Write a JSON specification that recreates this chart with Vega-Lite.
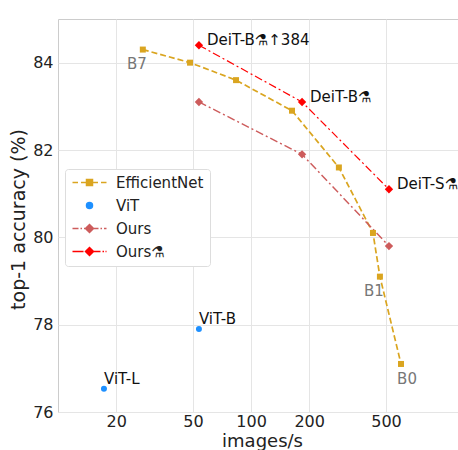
{
  "$schema": "https://vega.github.io/schema/vega-lite/v6.json",
  "autosize": "none",
  "padding": {"left": 58, "top": 19, "right": 0, "bottom": 38},
  "width": 400,
  "height": 393,
  "background": "white",
  "config": {
    "font": "DejaVu Sans",
    "view": {"stroke": "#cccccc", "strokeWidth": 1},
    "axis": {
      "domain": false,
      "ticks": false,
      "gridColor": "#e5e5e5",
      "gridWidth": 1,
      "labelFont": "DejaVu Sans",
      "labelFontSize": 16,
      "labelColor": "#222222",
      "titleFont": "DejaVu Sans",
      "titleFontSize": 19,
      "titleFontWeight": "normal",
      "titleColor": "#222222"
    },
    "legend": {
      "title": null, "orient": "none", "legendX": 7, "legendY": 150, "padding": 6,
      "fillColor": "white", "strokeColor": "#dddddd", "cornerRadius": 3,
      "symbolSize": 100, "symbolOffset": 11, "labelOffset": 19, "rowPadding": 7,
      "symbolOpacity": 1,
      "labelFontSize": 15, "labelFont": "DejaVu Sans", "labelColor": "#222222"
    }
  },
  "data": {
    "values": [
      {"x": 27.5, "y": 84.3, "series": "EfficientNet", "label": "B7"},
      {"x": 48.3, "y": 84.0, "series": "EfficientNet", "label": ""},
      {"x": 83.6, "y": 83.6, "series": "EfficientNet", "label": ""},
      {"x": 163, "y": 82.9, "series": "EfficientNet", "label": ""},
      {"x": 285, "y": 81.6, "series": "EfficientNet", "label": ""},
      {"x": 428, "y": 80.1, "series": "EfficientNet", "label": ""},
      {"x": 465, "y": 79.1, "series": "EfficientNet", "label": "B1"},
      {"x": 598, "y": 77.1, "series": "EfficientNet", "label": "B0"},
      {"x": 53.7, "y": 77.9, "series": "ViT", "label": "ViT-B"},
      {"x": 17.3, "y": 76.53, "series": "ViT", "label": "ViT-L"},
      {"x": 53.7, "y": 83.1, "series": "Ours", "label": ""},
      {"x": 183.7, "y": 81.9, "series": "Ours", "label": ""},
      {"x": 518, "y": 79.8, "series": "Ours", "label": ""},
      {"x": 53.7, "y": 84.4, "series": "Ours⚗", "label": "DeiT-B⚗↑384"},
      {"x": 183.7, "y": 83.1, "series": "Ours⚗", "label": "DeiT-B⚗"},
      {"x": 518, "y": 81.1, "series": "Ours⚗", "label": "DeiT-S⚗"}
    ]
  },
  "encoding": {
    "x": {
      "field": "x", "type": "quantitative",
      "scale": {"type": "log", "domain": [10, 1180], "nice": false},
      "axis": {"values": [20, 50, 100, 200, 500], "format": "d", "title": "images/s", "labelPadding": 1, "titleFontSize": 18, "titleBaseline": "alphabetic", "titleY": 34, "titleX": 204}
    },
    "y": {
      "field": "y", "type": "quantitative",
      "scale": {"domain": [76, 85], "nice": false, "zero": false},
      "axis": {"values": [76, 78, 80, 82, 84], "title": "top-1 accuracy (%)", "labelPadding": 5, "titlePadding": 4, "titleY": 200}
    }
  },
  "layer": [
    {
      "mark": {"type": "point", "filled": true, "opacity": 0.001, "size": 100},
      "encoding": {
        "color": {"field": "series", "type": "nominal",
          "scale": {"domain": ["EfficientNet", "ViT", "Ours", "Ours⚗"], "range": ["#DAA520", "#1E90FF", "#CD5C5C", "#FF0000"]},
          "legend": {"symbolOpacity": 1,
            "encode": {"symbols": {"update": {"stroke": {"scale": "color", "field": "value"}, "fill": {"scale": "color", "field": "value"}, "opacity": {"value": 1}, "fillOpacity": {"value": 1}, "strokeOpacity": {"value": 1}, "strokeWidth": {"value": 1.5}}}}}},
        "shape": {"field": "series", "type": "nominal",
          "scale": {"domain": ["EfficientNet", "ViT", "Ours", "Ours⚗"],
            "range": [
              "M-3.4,0H-2.3M-1.7,0H-0.6M0.6,0H1.7M2.3,0H3.4M-0.6,-0.6H0.6V0.6H-0.6Z",
              "M0.6,0A0.6,0.6 0 1,1 -0.6,0A0.6,0.6 0 1,1 0.6,0Z",
              "M-3.4,0H-2.2M-1.8,0H-1.5M-1.1,0H-0.8M0.8,0H1.8M2.2,0H2.5M2.9,0H3.4M0,-0.8L0.8,0L0,0.8L-0.8,0Z",
              "M-3.4,0H-1.2M-0.9,0H-0.8M0.8,0H2.2M2.6,0H2.9M3.2,0H3.4M0,-0.8L0.8,0L0,0.8L-0.8,0Z"
            ]},
          "legend": {"symbolOpacity": 1,
            "encode": {"symbols": {"update": {"stroke": {"scale": "color", "field": "value"}, "fill": {"scale": "color", "field": "value"}, "opacity": {"value": 1}, "fillOpacity": {"value": 1}, "strokeOpacity": {"value": 1}, "strokeWidth": {"value": 1.5}}}}}}
      }
    },
    {
      "transform": [{"filter": "datum.series !== 'ViT'"}],
      "mark": {"type": "line"},
      "encoding": {
        "color": {"field": "series", "type": "nominal", "legend": null},
        "strokeDash": {"field": "series", "type": "nominal", "legend": null,
          "scale": {"domain": ["EfficientNet", "Ours", "Ours⚗"], "range": [[6, 3], [8, 3, 2, 3], [8, 3, 2, 3]]}},
        "strokeWidth": {"field": "series", "type": "nominal", "legend": null,
          "scale": {"domain": ["EfficientNet", "Ours", "Ours⚗"], "range": [1.7, 1.2, 1.7]}}
      }
    },
    {
      "transform": [{"filter": "datum.series === 'EfficientNet'"}],
      "mark": {"type": "point", "shape": "square", "filled": true, "opacity": 1, "size": 36},
      "encoding": {"color": {"field": "series", "type": "nominal", "legend": null}}
    },
    {
      "transform": [{"filter": "datum.series === 'ViT'"}],
      "mark": {"type": "point", "shape": "circle", "filled": true, "opacity": 1, "size": 36},
      "encoding": {"color": {"field": "series", "type": "nominal", "legend": null}}
    },
    {
      "transform": [{"filter": "datum.series === 'Ours' || datum.series === 'Ours⚗'"}],
      "mark": {"type": "point", "shape": "diamond", "filled": true, "opacity": 1, "size": 70},
      "encoding": {"color": {"field": "series", "type": "nominal", "legend": null}}
    },
    {
      "transform": [{"filter": "datum.series === 'Ours⚗'"}],
      "mark": {"type": "text", "align": "left", "baseline": "middle", "dx": 8, "dy": -5, "fontSize": 15, "color": "#111111"},
      "encoding": {"text": {"field": "label"}}
    },
    {
      "transform": [{"filter": "datum.series === 'ViT'"}],
      "mark": {"type": "text", "align": "left", "baseline": "middle", "dx": 0, "dy": -10, "fontSize": 15, "color": "#111111"},
      "encoding": {"text": {"field": "label"}}
    },
    {
      "transform": [{"filter": "datum.label === 'B7' || datum.label === 'B1'"}],
      "mark": {"type": "text", "align": "center", "baseline": "middle", "dx": -6, "dy": 14, "fontSize": 15, "color": "#777777"},
      "encoding": {"text": {"field": "label"}}
    },
    {
      "transform": [{"filter": "datum.label === 'B0'"}],
      "mark": {"type": "text", "align": "center", "baseline": "middle", "dx": 6, "dy": 15, "fontSize": 15, "color": "#777777"},
      "encoding": {"text": {"field": "label"}}
    }
  ]
}
